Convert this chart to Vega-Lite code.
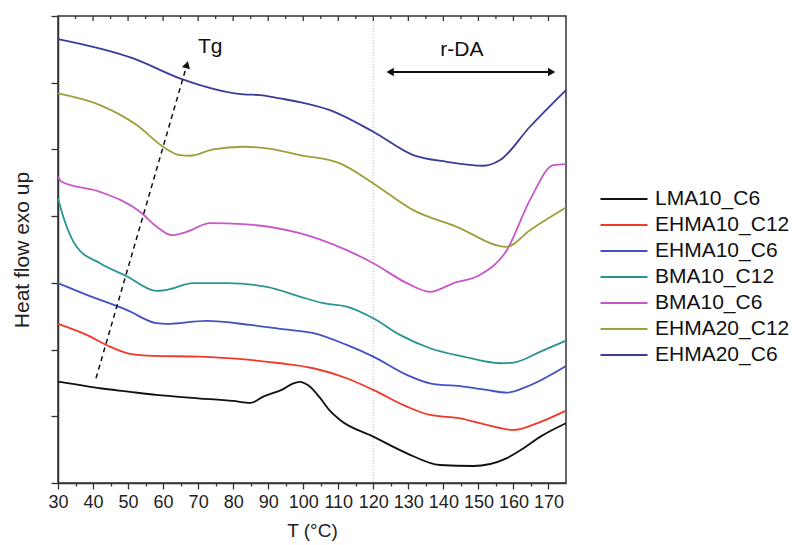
{
  "$schema": "https://vega.github.io/schema/vega-lite/v6.json",
  "width": 508,
  "height": 467,
  "autosize": "none",
  "padding": {"left": 58, "top": 16, "right": 226, "bottom": 62},
  "background": "white",
  "config": {
    "font": "Liberation Sans",
    "view": {"stroke": "#333", "strokeWidth": 1.5},
    "axis": {"grid": false, "domainColor": "#333", "tickColor": "#333", "domainWidth": 1.5, "tickWidth": 1.3, "labelColor": "#222", "titleColor": "#222", "titleFontWeight": "normal", "labelFont": "Liberation Sans", "titleFont": "Liberation Sans"}
  },
  "datasets": {
    "topMajor": [{"T": 40, "h": 14}, {"T": 50, "h": 14}, {"T": 60, "h": 14}, {"T": 70, "h": 14}, {"T": 80, "h": 14}, {"T": 90, "h": 14}, {"T": 100, "h": 14}, {"T": 110, "h": 14}, {"T": 120, "h": 14}, {"T": 130, "h": 14}, {"T": 140, "h": 14}, {"T": 150, "h": 14}, {"T": 160, "h": 14}, {"T": 170, "h": 14}],
    "topMinor": [{"T": 35, "h": 14}, {"T": 45, "h": 14}, {"T": 55, "h": 14}, {"T": 65, "h": 14}, {"T": 75, "h": 14}, {"T": 85, "h": 14}, {"T": 95, "h": 14}, {"T": 105, "h": 14}, {"T": 115, "h": 14}, {"T": 125, "h": 14}, {"T": 135, "h": 14}, {"T": 145, "h": 14}, {"T": 155, "h": 14}, {"T": 165, "h": 14}],
    "curves": [
      {"s": "LMA10_C6", "T": 30, "h": 3.04}, {"s": "LMA10_C6", "T": 36, "h": 2.94}, {"s": "LMA10_C6", "T": 42, "h": 2.84}, {"s": "LMA10_C6", "T": 50, "h": 2.74}, {"s": "LMA10_C6", "T": 58, "h": 2.64}, {"s": "LMA10_C6", "T": 70, "h": 2.54}, {"s": "LMA10_C6", "T": 80, "h": 2.46}, {"s": "LMA10_C6", "T": 85, "h": 2.40}, {"s": "LMA10_C6", "T": 88.6, "h": 2.59}, {"s": "LMA10_C6", "T": 94, "h": 2.80}, {"s": "LMA10_C6", "T": 97, "h": 2.98}, {"s": "LMA10_C6", "T": 99, "h": 3.03}, {"s": "LMA10_C6", "T": 101.5, "h": 2.92}, {"s": "LMA10_C6", "T": 104.8, "h": 2.55}, {"s": "LMA10_C6", "T": 107.4, "h": 2.19}, {"s": "LMA10_C6", "T": 110.5, "h": 1.89}, {"s": "LMA10_C6", "T": 120, "h": 1.39}, {"s": "LMA10_C6", "T": 129.6, "h": 0.89}, {"s": "LMA10_C6", "T": 139, "h": 0.54}, {"s": "LMA10_C6", "T": 148.5, "h": 0.51}, {"s": "LMA10_C6", "T": 158, "h": 0.74}, {"s": "LMA10_C6", "T": 163, "h": 1.05}, {"s": "LMA10_C6", "T": 167.7, "h": 1.39}, {"s": "LMA10_C6", "T": 175, "h": 1.79},
      {"s": "EHMA10_C12", "T": 30, "h": 4.77}, {"s": "EHMA10_C12", "T": 38.2, "h": 4.44}, {"s": "EHMA10_C12", "T": 44.8, "h": 4.09}, {"s": "EHMA10_C12", "T": 50.6, "h": 3.87}, {"s": "EHMA10_C12", "T": 57.2, "h": 3.81}, {"s": "EHMA10_C12", "T": 70.5, "h": 3.79}, {"s": "EHMA10_C12", "T": 84.8, "h": 3.69}, {"s": "EHMA10_C12", "T": 93.4, "h": 3.59}, {"s": "EHMA10_C12", "T": 102.9, "h": 3.44}, {"s": "EHMA10_C12", "T": 112.4, "h": 3.14}, {"s": "EHMA10_C12", "T": 120, "h": 2.79}, {"s": "EHMA10_C12", "T": 129.6, "h": 2.29}, {"s": "EHMA10_C12", "T": 136.2, "h": 2.04}, {"s": "EHMA10_C12", "T": 144.8, "h": 1.94}, {"s": "EHMA10_C12", "T": 152.4, "h": 1.74}, {"s": "EHMA10_C12", "T": 160, "h": 1.59}, {"s": "EHMA10_C12", "T": 166.7, "h": 1.79}, {"s": "EHMA10_C12", "T": 175, "h": 2.17},
      {"s": "EHMA10_C6", "T": 30, "h": 5.99}, {"s": "EHMA10_C6", "T": 38.2, "h": 5.64}, {"s": "EHMA10_C6", "T": 49.6, "h": 5.19}, {"s": "EHMA10_C6", "T": 58.2, "h": 4.79}, {"s": "EHMA10_C6", "T": 61, "h": 4.77}, {"s": "EHMA10_C6", "T": 72.4, "h": 4.86}, {"s": "EHMA10_C6", "T": 84.8, "h": 4.74}, {"s": "EHMA10_C6", "T": 93.4, "h": 4.62}, {"s": "EHMA10_C6", "T": 102.9, "h": 4.49}, {"s": "EHMA10_C6", "T": 112.4, "h": 4.14}, {"s": "EHMA10_C6", "T": 120, "h": 3.79}, {"s": "EHMA10_C6", "T": 129.6, "h": 3.24}, {"s": "EHMA10_C6", "T": 136.2, "h": 2.99}, {"s": "EHMA10_C6", "T": 145.7, "h": 2.89}, {"s": "EHMA10_C6", "T": 152.4, "h": 2.79}, {"s": "EHMA10_C6", "T": 158.1, "h": 2.71}, {"s": "EHMA10_C6", "T": 163.8, "h": 2.89}, {"s": "EHMA10_C6", "T": 175, "h": 3.51},
      {"s": "BMA10_C12", "T": 30, "h": 8.53}, {"s": "BMA10_C12", "T": 31.5, "h": 7.98}, {"s": "BMA10_C12", "T": 35.3, "h": 7.08}, {"s": "BMA10_C12", "T": 42, "h": 6.59}, {"s": "BMA10_C12", "T": 49.6, "h": 6.2}, {"s": "BMA10_C12", "T": 58.2, "h": 5.76}, {"s": "BMA10_C12", "T": 61, "h": 5.79}, {"s": "BMA10_C12", "T": 68.6, "h": 5.99}, {"s": "BMA10_C12", "T": 78.2, "h": 5.99}, {"s": "BMA10_C12", "T": 89.6, "h": 5.88}, {"s": "BMA10_C12", "T": 99, "h": 5.59}, {"s": "BMA10_C12", "T": 105.7, "h": 5.39}, {"s": "BMA10_C12", "T": 112.4, "h": 5.29}, {"s": "BMA10_C12", "T": 120, "h": 4.94}, {"s": "BMA10_C12", "T": 127.6, "h": 4.44}, {"s": "BMA10_C12", "T": 136.2, "h": 4.04}, {"s": "BMA10_C12", "T": 145.7, "h": 3.79}, {"s": "BMA10_C12", "T": 156.2, "h": 3.59}, {"s": "BMA10_C12", "T": 160, "h": 3.61}, {"s": "BMA10_C12", "T": 167.7, "h": 3.94}, {"s": "BMA10_C12", "T": 175, "h": 4.27},
      {"s": "BMA10_C6", "T": 30, "h": 9.18}, {"s": "BMA10_C6", "T": 31, "h": 9.03}, {"s": "BMA10_C6", "T": 42, "h": 8.73}, {"s": "BMA10_C6", "T": 53.4, "h": 8.13}, {"s": "BMA10_C6", "T": 58.2, "h": 7.68}, {"s": "BMA10_C6", "T": 62.5, "h": 7.43}, {"s": "BMA10_C6", "T": 66.7, "h": 7.53}, {"s": "BMA10_C6", "T": 73.4, "h": 7.79}, {"s": "BMA10_C6", "T": 82.9, "h": 7.76}, {"s": "BMA10_C6", "T": 99, "h": 7.49}, {"s": "BMA10_C6", "T": 112.4, "h": 6.98}, {"s": "BMA10_C6", "T": 120, "h": 6.59}, {"s": "BMA10_C6", "T": 129.6, "h": 5.99}, {"s": "BMA10_C6", "T": 136.2, "h": 5.73}, {"s": "BMA10_C6", "T": 142.9, "h": 5.99}, {"s": "BMA10_C6", "T": 150.5, "h": 6.24}, {"s": "BMA10_C6", "T": 158.1, "h": 6.98}, {"s": "BMA10_C6", "T": 164.7, "h": 8.48}, {"s": "BMA10_C6", "T": 171.4, "h": 9.53}, {"s": "BMA10_C6", "T": 175, "h": 9.56},
      {"s": "EHMA20_C12", "T": 30, "h": 11.68}, {"s": "EHMA20_C12", "T": 42, "h": 11.33}, {"s": "EHMA20_C12", "T": 52.5, "h": 10.73}, {"s": "EHMA20_C12", "T": 60, "h": 10.08}, {"s": "EHMA20_C12", "T": 64.8, "h": 9.83}, {"s": "EHMA20_C12", "T": 67.7, "h": 9.81}, {"s": "EHMA20_C12", "T": 74.3, "h": 10.0}, {"s": "EHMA20_C12", "T": 82.9, "h": 10.08}, {"s": "EHMA20_C12", "T": 89.6, "h": 10.03}, {"s": "EHMA20_C12", "T": 99, "h": 9.83}, {"s": "EHMA20_C12", "T": 110.5, "h": 9.58}, {"s": "EHMA20_C12", "T": 120, "h": 8.98}, {"s": "EHMA20_C12", "T": 131.4, "h": 8.18}, {"s": "EHMA20_C12", "T": 143.8, "h": 7.68}, {"s": "EHMA20_C12", "T": 158.1, "h": 7.08}, {"s": "EHMA20_C12", "T": 164.7, "h": 7.58}, {"s": "EHMA20_C12", "T": 175, "h": 8.26},
      {"s": "EHMA20_C6", "T": 30, "h": 13.31}, {"s": "EHMA20_C6", "T": 51.5, "h": 12.73}, {"s": "EHMA20_C6", "T": 64.8, "h": 12.13}, {"s": "EHMA20_C6", "T": 70.5, "h": 11.93}, {"s": "EHMA20_C6", "T": 82.9, "h": 11.65}, {"s": "EHMA20_C6", "T": 87.7, "h": 11.63}, {"s": "EHMA20_C6", "T": 93.4, "h": 11.53}, {"s": "EHMA20_C6", "T": 99, "h": 11.42}, {"s": "EHMA20_C6", "T": 107.6, "h": 11.18}, {"s": "EHMA20_C6", "T": 120, "h": 10.53}, {"s": "EHMA20_C6", "T": 131.4, "h": 9.83}, {"s": "EHMA20_C6", "T": 141, "h": 9.63}, {"s": "EHMA20_C6", "T": 151.4, "h": 9.51}, {"s": "EHMA20_C6", "T": 156.2, "h": 9.68}, {"s": "EHMA20_C6", "T": 164.7, "h": 10.68}, {"s": "EHMA20_C6", "T": 175, "h": 11.78}
    ]
  },
  "resolve": {"axis": {"x": "independent"}},
  "layer": [
    {
      "data": {"values": [{"T": 120}]},
      "mark": {"type": "rule", "color": "#bbbbbb", "strokeWidth": 1, "strokeDash": [1, 2]},
      "encoding": {
        "x": {"field": "T", "type": "quantitative", "scale": {"domain": [30, 175], "nice": false, "zero": false}, "axis": null}
      }
    },
    {
      "data": {"name": "topMajor"},
      "mark": {"type": "tick", "orient": "vertical", "size": 10, "thickness": 1.3, "color": "#333", "opacity": 1, "clip": true},
      "encoding": {"x": {"field": "T", "type": "quantitative", "axis": null}, "y": {"field": "h", "type": "quantitative"}}
    },
    {
      "data": {"name": "topMinor"},
      "mark": {"type": "tick", "orient": "vertical", "size": 6, "thickness": 1.3, "color": "#333", "opacity": 1, "clip": true},
      "encoding": {"x": {"field": "T", "type": "quantitative", "axis": null}, "y": {"field": "h", "type": "quantitative"}}
    },
    {
      "data": {"name": "curves"},
      "mark": {"type": "line", "interpolate": "monotone", "strokeWidth": 1.8},
      "encoding": {
        "x": {"field": "T", "type": "quantitative", "scale": {"domain": [30, 175], "nice": false, "zero": false},
          "axis": {"orient": "bottom", "values": [30, 35, 40, 45, 50, 55, 60, 65, 70, 75, 80, 85, 90, 95, 100, 105, 110, 115, 120, 125, 130, 135, 140, 145, 150, 155, 160, 165, 170],
            "labelExpr": "datum.value % 10 === 0 ? datum.label : ''", "labelFontSize": 18, "labelPadding": 4, "labelFlush": false, "title": "T (°C)", "titleFontSize": 19, "titlePadding": 10,
            "tickSize": {"condition": {"test": "datum.value % 10 === 0", "value": 6}, "value": 3}}},
        "y": {"field": "h", "type": "quantitative", "scale": {"domain": [0, 14], "nice": false, "zero": false},
          "axis": {"values": [0, 1, 2, 3, 4, 5, 6, 7, 8, 9, 10, 11, 12, 13, 14], "labels": false, "title": "Heat flow exo up", "titleFontSize": 21, "titlePadding": 18,
            "tickSize": {"condition": {"test": "datum.value % 2 === 0", "value": 7}, "value": 4}}},
        "color": {"field": "s", "type": "nominal", "sort": ["LMA10_C6", "EHMA10_C12", "EHMA10_C6", "BMA10_C12", "BMA10_C6", "EHMA20_C12", "EHMA20_C6"],
          "scale": {"domain": ["LMA10_C6", "EHMA10_C12", "EHMA10_C6", "BMA10_C12", "BMA10_C6", "EHMA20_C12", "EHMA20_C6"],
            "range": ["#111111", "#f2382a", "#4252c2", "#2a9494", "#c957c9", "#9e9e3c", "#3b3b9a"]},
          "legend": {"orient": "none", "legendX": 553, "legendY": 170, "title": null, "padding": 0, "symbolType": "M-2,0H2", "symbolSize": 552, "symbolStrokeWidth": 2, "labelFontSize": 21, "labelOffset": 18, "rowPadding": 3, "labelColor": "#111"}}
      }
    },
    {
      "data": {"values": [{"T": 40.85, "h": 3.14}, {"T": 66.8, "h": 12.54}]},
      "mark": {"type": "line", "color": "#111", "strokeWidth": 1.5, "strokeDash": [5, 4]},
      "encoding": {"x": {"field": "T", "type": "quantitative", "axis": null}, "y": {"field": "h", "type": "quantitative"}}
    },
    {
      "data": {"values": [{"T": 66.8, "h": 12.54, "a": 16, "sh": "triangle-up"}, {"T": 124.8, "h": 12.32, "a": 0, "sh": "triangle-left"}, {"T": 170.9, "h": 12.32, "a": 0, "sh": "triangle-right"}]},
      "mark": {"type": "point", "filled": true, "color": "#111", "opacity": 1, "size": 70},
      "encoding": {"x": {"field": "T", "type": "quantitative", "axis": null}, "y": {"field": "h", "type": "quantitative"},
        "shape": {"field": "sh", "type": "nominal", "scale": null, "legend": null},
        "angle": {"field": "a", "type": "quantitative", "scale": null}}
    },
    {
      "data": {"values": [{"T": 124.5, "h": 12.32}, {"T": 171.2, "h": 12.32}]},
      "mark": {"type": "line", "color": "#111", "strokeWidth": 2},
      "encoding": {"x": {"field": "T", "type": "quantitative", "axis": null}, "y": {"field": "h", "type": "quantitative"}}
    },
    {
      "data": {"values": [{"T": 69.97, "h": 12.89, "t": "Tg"}]},
      "mark": {"type": "text", "fontSize": 21, "color": "#111", "baseline": "alphabetic", "align": "left"},
      "encoding": {"x": {"field": "T", "type": "quantitative", "axis": null}, "y": {"field": "h", "type": "quantitative"}, "text": {"field": "t"}}
    },
    {
      "data": {"values": [{"T": 145.3, "h": 12.8, "t": "r-DA"}]},
      "mark": {"type": "text", "fontSize": 21, "color": "#111", "baseline": "alphabetic", "align": "center"},
      "encoding": {"x": {"field": "T", "type": "quantitative", "axis": null}, "y": {"field": "h", "type": "quantitative"}, "text": {"field": "t"}}
    }
  ]
}
